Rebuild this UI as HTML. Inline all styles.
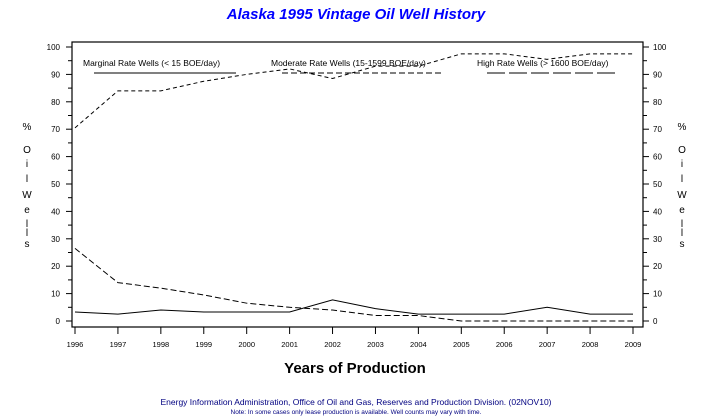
<!DOCTYPE html>
<html><head><meta charset="utf-8"><style>
body{margin:0;background:#fff;}
svg{display:block;font-family:"Liberation Sans",sans-serif;}
</style></head><body>
<svg id="c" width="712" height="418" viewBox="0 0 712 418">
<text x="356" y="19" text-anchor="middle" font-size="15" font-style="italic" font-weight="bold" fill="#0000ff">Alaska 1995 Vintage Oil Well History</text>
<rect x="72" y="42" width="571" height="285" fill="none" stroke="#000" stroke-width="1.2"/>
<g id="axes"></g>
<g id="series"></g>
<g font-size="8.5">
<text x="83" y="66">Marginal Rate Wells (&lt;  15 BOE/day)</text>
<line x1="94" y1="73" x2="236" y2="73" stroke="#000"/>
<text x="271" y="66">Moderate Rate Wells (15-1599 BOE/day)</text>
<line x1="282" y1="73" x2="443" y2="73" stroke="#000" stroke-dasharray="6,3"/>
<text x="477" y="66">High Rate Wells (&gt; 1600 BOE/day)</text>
<line x1="487" y1="73" x2="619" y2="73" stroke="#000" stroke-dasharray="18,4"/>
</g>
<g font-size="10" text-anchor="middle">
<text x="27" y="130">%</text><text x="27" y="153">O</text><text x="27" y="167">i</text><text x="27" y="182">l</text><text x="27" y="198">W</text><text x="27" y="213">e</text><text x="27" y="227">l</text><text x="27" y="236">l</text><text x="27" y="247">s</text></g>
<g font-size="10" text-anchor="middle">
<text x="682" y="130">%</text><text x="682" y="153">O</text><text x="682" y="167">i</text><text x="682" y="182">l</text><text x="682" y="198">W</text><text x="682" y="213">e</text><text x="682" y="227">l</text><text x="682" y="236">l</text><text x="682" y="247">s</text></g>
<text x="355" y="373" text-anchor="middle" font-size="15" font-weight="bold">Years of Production</text>
<text x="356" y="405" text-anchor="middle" font-size="8.5" fill="#000080">Energy Information Administration, Office of Oil and Gas, Reserves and Production Division. (02NOV10)</text>
<text x="356" y="414" text-anchor="middle" font-size="6.5" fill="#000080">Note: In some cases only lease production is available. Well counts may vary with time.</text>
</svg>
<script>
const years=[1996,1997,1998,1999,2000,2001,2002,2003,2004,2005,2006,2007,2008,2009];
const marginal=[3.3,2.5,4,3.3,3.3,3.3,7.7,4.5,2.5,2.5,2.5,5,2.5,2.5];
const moderate=[26.5,14,12,9.5,6.5,5,4,2,2,0,0,0,0,0];
const highRate=[70.5,84,84,87.5,90,92,88.5,93,93,97.5,97.5,95.5,97.5,97.5];
const yTicks=[0,10,20,30,40,50,60,70,80,90,100];
const NS="http://www.w3.org/2000/svg";
function xs(y){return 75+(y-1996)*(633-75)/13;}
function ys(v){return 321-v*2.74;}
function mk(t,a,p){const e=document.createElementNS(NS,t);for(const k in a)e.setAttribute(k,a[k]);p.appendChild(e);return e;}
const ax=document.getElementById('axes');
yTicks.forEach(v=>{
 const y=ys(v);
 let l=mk('line',{x1:66,y1:y,x2:72,y2:y,stroke:'#000'},ax);
 
 
 l=mk('line',{x1:643,y1:y,x2:649,y2:y,stroke:'#000'},ax);
 
 
 let t=mk('text',{x:60,y:y+3,'text-anchor':'end','font-size':8},ax);t.textContent=v;
 
 
 t=mk('text',{x:653,y:y+3,'font-size':8},ax);t.textContent=v;
 
 
 if(v<100){const m=ys(v+5);
  mk('line',{x1:68,y1:m,x2:72,y2:m,stroke:'#000'},ax);
  mk('line',{x1:643,y1:m,x2:647,y2:m,stroke:'#000'},ax);}
});
years.forEach(yr=>{
 const x=xs(yr);
 const l=mk('line',{x1:x,y1:327,x2:x,y2:334,stroke:'#000'},ax);
 
 
 const t=mk('text',{x:x,y:347,'text-anchor':'middle','font-size':7.5},ax);t.textContent=yr;
 
 
});
const sg=document.getElementById('series');
function line(vals,dash,name){
 const p=mk('polyline',{points:vals.map((v,i)=>xs(years[i])+','+ys(v)).join(' '),fill:'none',stroke:'#000','stroke-width':1,'stroke-dasharray':dash},sg);
 
 
}
line(marginal,'none','series-marginal');
line(moderate,'6,3','series-moderate');
line(highRate,'4,3','series-high-rate');
</script>
</body></html>
